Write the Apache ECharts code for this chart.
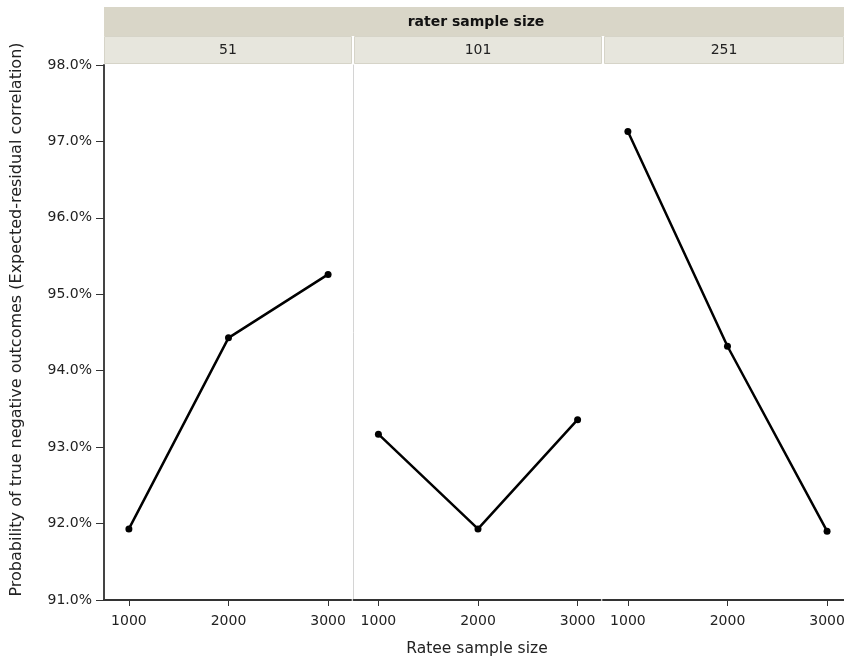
<!DOCTYPE html>
<html><head><meta charset="utf-8">
<script src="https://cdn.jsdelivr.net/npm/echarts@6/dist/echarts.min.js"></script>
<style>html,body{margin:0;padding:0;background:#fff}#c{width:844px;height:658px}</style>
</head><body><div id="c"></div>
<script>
// ---- data ----
const stripTitle = 'rater sample size';
const raterSizes = ['51', '101', '251'];
const rateeSizes = [1000, 2000, 3000];
const tnr51  = [91.93, 94.43, 95.26];
const tnr101 = [93.17, 91.93, 93.36];
const tnr251 = [97.13, 94.32, 91.90];
const yTickValues = [91, 92, 93, 94, 95, 96, 97, 98];
const xTitle = 'Ratee sample size';
const yTitle = 'Probability of true negative outcomes (Expected-residual correlation)';

const panelValues = [tnr51, tnr101, tnr251];
const FONT = '"DejaVu Sans", Verdana, sans-serif';
const TXT = '#222';

const gridLefts = [104, 353.5, 603];
const gridWidths = [247, 247, 241];
const xMax = [3230, 3230, 3170];
const TOP = 65, BOTTOM = 600;

const grids = gridLefts.map((l, i) => ({left: l, width: gridWidths[i], top: TOP, height: BOTTOM - TOP, outerBoundsMode: 'none', containLabel: false}));

const xAxes = gridLefts.map((l, i) => ({
  type: 'value', gridIndex: i, min: 750, max: xMax[i],
  axisLine: {show: true, onZero: false, lineStyle: {color: '#333', width: 2}},
  axisTick: {show: true, length: 6, customValues: rateeSizes, lineStyle: {color: '#333', width: 1}},
  axisLabel: {customValues: rateeSizes, color: TXT, fontFamily: FONT, fontSize: 14, margin: 14,
    formatter: v => String(v)},
  splitLine: {show: false},
  name: i === 1 ? xTitle : '', nameLocation: 'middle', nameGap: 41,
  nameTextStyle: {color: TXT, fontFamily: FONT, fontSize: 15.5}
}));

const yAxes = gridLefts.map((l, i) => ({
  type: 'value', gridIndex: i, min: yTickValues[0], max: yTickValues[yTickValues.length - 1], interval: 1,
  axisLine: {show: i < 2, onZero: false, lineStyle: i === 0 ? {color: '#444', width: 2} : {color: '#d4d4d4', width: 1}},
  axisTick: {show: i === 0, length: 8, lineStyle: {color: '#333'}},
  axisLabel: {show: i === 0, color: TXT, fontFamily: FONT, fontSize: 14, margin: 12,
    formatter: v => v.toFixed(1) + '%'},
  splitLine: {show: false},
  name: i === 0 ? yTitle : '', nameLocation: 'middle', nameGap: 79, nameRotate: 90,
  nameTextStyle: {color: TXT, fontFamily: FONT, fontSize: 16, padding: [0, 0, 0, 26]}
}));

const series = panelValues.map((vals, i) => ({
  type: 'line', xAxisIndex: i, yAxisIndex: i,
  data: rateeSizes.map((x, j) => [x, vals[j]]),
  symbol: 'circle', symbolSize: 7,
  lineStyle: {color: '#000', width: 2.5},
  itemStyle: {color: '#000'},
  animation: false
}));

// strips
const graphic = [];
graphic.push({type: 'rect', shape: {x: 104, y: 7, width: 740, height: 29}, style: {fill: '#d9d6c8'}, silent: true});
graphic.push({type: 'text', x: 476, y: 22, style: {text: stripTitle, fill: '#111', font: 'bold 14px ' + FONT, textAlign: 'center', textVerticalAlign: 'middle'}});
const stripX = [104, 354, 604], stripW = [248, 248, 240];
raterSizes.forEach((s, i) => {
  graphic.push({type: 'rect', shape: {x: stripX[i] + 0.5, y: 36.5, width: stripW[i] - 1, height: 27}, style: {fill: '#e7e6dd', stroke: '#d6d4c8', lineWidth: 1}, silent: true});
  graphic.push({type: 'text', x: stripX[i] + stripW[i] / 2, y: 50, style: {text: s, fill: TXT, font: '14px ' + FONT, textAlign: 'center', textVerticalAlign: 'middle'}});
});

const chart = echarts.init(document.getElementById('c'), null, {renderer: 'canvas'});
chart.setOption({
  animation: false,
  backgroundColor: '#fff',
  grid: grids, xAxis: xAxes, yAxis: yAxes, series: series, graphic: graphic
});
</script></body></html>
